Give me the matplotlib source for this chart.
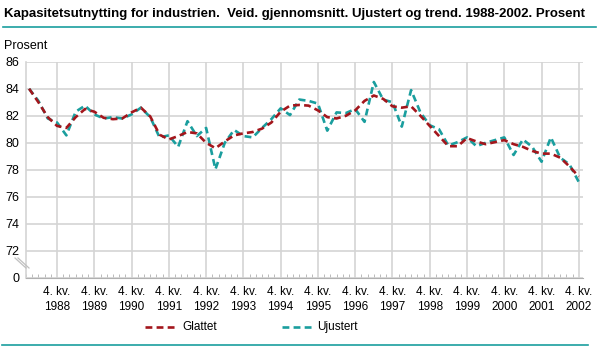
import matplotlib
matplotlib.use("Agg")
import matplotlib.pyplot as plt
from matplotlib.lines import Line2D

plt.rcParams["font.family"] = ["Liberation Sans", "DejaVu Sans"]

years = list(range(1988, 2003))
tick_labels = [f"4. kv.\n{y}" for y in years]

glattet = [84.0, 83.0, 81.9, 81.25, 81.1, 81.9, 82.5, 82.3, 81.85, 81.75, 81.8, 82.25, 82.6, 81.95, 80.6, 80.25,
           80.5, 80.8, 80.7, 80.0, 79.6, 80.1, 80.55, 80.7, 80.8, 81.05, 81.5, 82.3, 82.75, 82.8,
           82.75, 82.4, 81.9, 81.8, 82.0, 82.4, 83.1, 83.5, 83.25, 82.7,
           82.6, 82.7, 82.0, 81.25, 80.5, 79.75, 79.75, 80.35, 80.1, 79.9,
           80.05, 80.2, 79.9, 79.7, 79.4, 79.2, 79.2, 78.9, 78.25, 77.5]

ujustert = [84.0, 83.1, 81.8, 81.5, 80.55, 82.3, 82.75, 82.1, 81.8, 81.9, 81.8, 82.1, 82.6, 81.9, 80.4, 80.55,
            79.7, 81.6, 80.5, 81.1, 78.05, 80.0, 80.95, 80.5, 80.4, 81.1, 81.75, 82.55, 82.05, 83.2,
            83.1, 82.9, 80.9, 82.25, 82.2, 82.5, 81.55, 84.5, 83.2, 83.0,
            81.2, 83.9, 82.25, 81.3, 81.0, 79.8, 80.05, 80.4, 79.75, 80.0,
            80.2, 80.4, 79.1, 80.25, 79.7, 78.6, 80.4, 78.9, 78.4, 77.1]

y_ticks = [70, 72, 74, 76, 78, 80, 82, 84, 86]
y_labels = ["0", "72", "74", "76", "78", "80", "82", "84", "86"]

red = "#a3161c"
teal = "#1a9e9e"
grid = "#d4d4d4"

fig = plt.figure(figsize=(5.98, 3.52), dpi=100)
ax = fig.add_axes([26 / 598, 1 - 278 / 352, 557 / 598, (278 - 61.7) / 352])

x = list(range(len(glattet)))
dash = (0, (2.6, 1.6))
ax.plot(x, ujustert, color=teal, lw=1.9, ls=dash, zorder=3)
ax.plot(x, glattet, color=red, lw=1.9, ls=dash, zorder=4)

ax.set_xlim(-1 / 3, 59.45)
ax.set_ylim(70, 86)

year_pos = [3 + 4 * k for k in range(len(years))]
ax.set_xticks(year_pos)
ax.set_xticklabels(tick_labels, fontsize=8.5, linespacing=1.25)
minor = [3 + k * 2 / 3 for k in range(-5, 85)]
ax.set_xticks([m for m in minor if -0.4 < m < 59.5], minor=True)
ax.tick_params(axis="x", which="major", length=0, pad=6)
ax.tick_params(axis="x", which="minor", length=3, direction="in", color="#b0b0b0")

ax.set_yticks(y_ticks)
ax.set_yticklabels(y_labels, fontsize=9)
ax.tick_params(axis="y", length=0, pad=5)

ax.grid(True, color=grid, lw=1.2)
ax.set_axisbelow(True)
for s in ["top", "right"]:
    ax.spines[s].set_visible(False)
ax.spines["left"].set_color(grid)
ax.spines["bottom"].set_color("#b0b0b0")
ax.spines["left"].set_linewidth(1.2)

# axis break marks
for dx in (0, 3):
    fig.add_artist(Line2D([(15 + dx) / 598, (26 + dx) / 598],
                          [1 - 258 / 352, 1 - 268 / 352], color="#c0c0c0", lw=0.9))

fig.text(4 / 598, 1 - 14 / 352, "Kapasitetsutnytting for industrien.  Veid. gjennomsnitt. Ujustert og trend. 1988-2002. Prosent",
         fontsize=9.5, fontweight="bold", va="center", ha="left")
fig.add_artist(Line2D([3 / 598, 596 / 598], [1 - 27 / 352] * 2, color=teal, lw=1.2))
fig.add_artist(Line2D([2 / 598, 588 / 598], [1 - 345 / 352] * 2, color=teal, lw=1.2))
fig.text(4 / 598, 1 - 46 / 352, "Prosent", fontsize=9, va="center", ha="left")

# legend
ly = 1 - 327 / 352
fig.add_artist(Line2D([145 / 598, 178 / 598], [ly, ly], color=red, lw=1.9, ls=dash))
fig.text(182 / 598, ly, "Glattet", fontsize=8.5, va="center", ha="left")
fig.add_artist(Line2D([282 / 598, 313 / 598], [ly, ly], color=teal, lw=1.9, ls=dash))
fig.text(317 / 598, ly, "Ujustert", fontsize=8.5, va="center", ha="left")

fig.savefig("out.png", dpi=100)
